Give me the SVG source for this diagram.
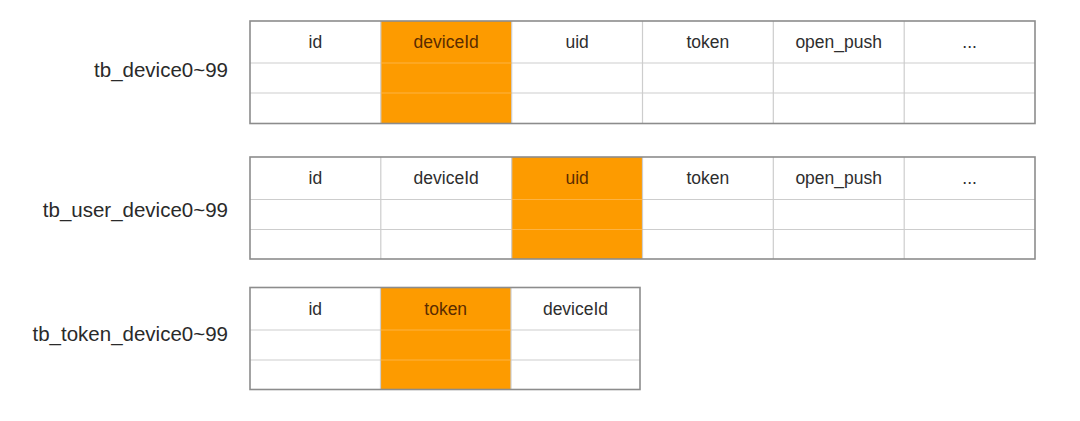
<svg xmlns="http://www.w3.org/2000/svg" width="1080" height="421" viewBox="0 0 1080 421">
<style>
.bg{fill:#ffffff}
.hl{fill:#fd9b00}
.grid{stroke:#cdcdcd;stroke-width:1.2;fill:none}
.hgrid{stroke:#fdb342;stroke-width:1.2;fill:none}
.frame{stroke:#8c8c8c;stroke-width:1.6;fill:none}
.cell{font-family:"Liberation Sans",Arial,sans-serif;font-size:17.5px;fill:#2e2e2e;text-anchor:middle}
.cellh{font-family:"Liberation Sans",Arial,sans-serif;font-size:17.5px;fill:#5a2c00;text-anchor:middle}
.lbl{font-family:"Liberation Sans",Arial,sans-serif;font-size:20.5px;fill:#2a2a2a;text-anchor:end}
</style>
<rect width="1080" height="421" fill="#ffffff"/>

<g id="tb_device">
  <text class="lbl" x="228" y="77">tb_device0~99</text>
  <rect class="bg" x="250" y="21" width="785" height="102.5"/>
  <rect class="hl" x="380.8" y="21" width="130.9" height="102.5"/>
  <path class="grid" d="M250 63H380.8M511.7 63H1035M250 93H380.8M511.7 93H1035M380.8 21V123.5M511.7 21V123.5M642.5 21V123.5M773.3 21V123.5M904.2 21V123.5"/>
  <path class="hgrid" d="M380.8 63H511.7M380.8 93H511.7"/>
  <rect class="frame" x="250" y="21" width="785" height="102.5"/>
  <text class="cell" x="315.4" y="48.3">id</text>
  <text class="cellh" x="446.2" y="48.3">deviceId</text>
  <text class="cell" x="577.1" y="48.3">uid</text>
  <text class="cell" x="707.9" y="48.3">token</text>
  <text class="cell" x="838.7" y="48.3">open_push</text>
  <text class="cell" x="969.6" y="48.3">...</text>
</g>

<g id="tb_user_device">
  <text class="lbl" x="228" y="217">tb_user_device0~99</text>
  <rect class="bg" x="250" y="157" width="785" height="102"/>
  <rect class="hl" x="511.7" y="157" width="130.8" height="102"/>
  <path class="grid" d="M250 199.5H511.7M642.5 199.5H1035M250 229.5H511.7M642.5 229.5H1035M380.8 157V259M511.7 157V259M642.5 157V259M773.3 157V259M904.2 157V259"/>
  <path class="hgrid" d="M511.7 199.5H642.5M511.7 229.5H642.5"/>
  <rect class="frame" x="250" y="157" width="785" height="102"/>
  <text class="cell" x="315.4" y="184.3">id</text>
  <text class="cell" x="446.2" y="184.3">deviceId</text>
  <text class="cellh" x="577.1" y="184.3">uid</text>
  <text class="cell" x="707.9" y="184.3">token</text>
  <text class="cell" x="838.7" y="184.3">open_push</text>
  <text class="cell" x="969.6" y="184.3">...</text>
</g>

<g id="tb_token_device">
  <text class="lbl" x="228" y="341">tb_token_device0~99</text>
  <rect class="bg" x="250" y="287.5" width="390" height="102"/>
  <rect class="hl" x="380.5" y="287.5" width="130.5" height="102"/>
  <path class="grid" d="M250 330H380.5M511 330H640M250 360H380.5M511 360H640M380.5 287.5V389.5M511 287.5V389.5"/>
  <path class="hgrid" d="M380.5 330H511M380.5 360H511"/>
  <rect class="frame" x="250" y="287.5" width="390" height="102"/>
  <text class="cell" x="315.2" y="314.8">id</text>
  <text class="cellh" x="445.7" y="314.8">token</text>
  <text class="cell" x="575.5" y="314.8">deviceId</text>
</g>

<g id="connectors"></g>
</svg>
